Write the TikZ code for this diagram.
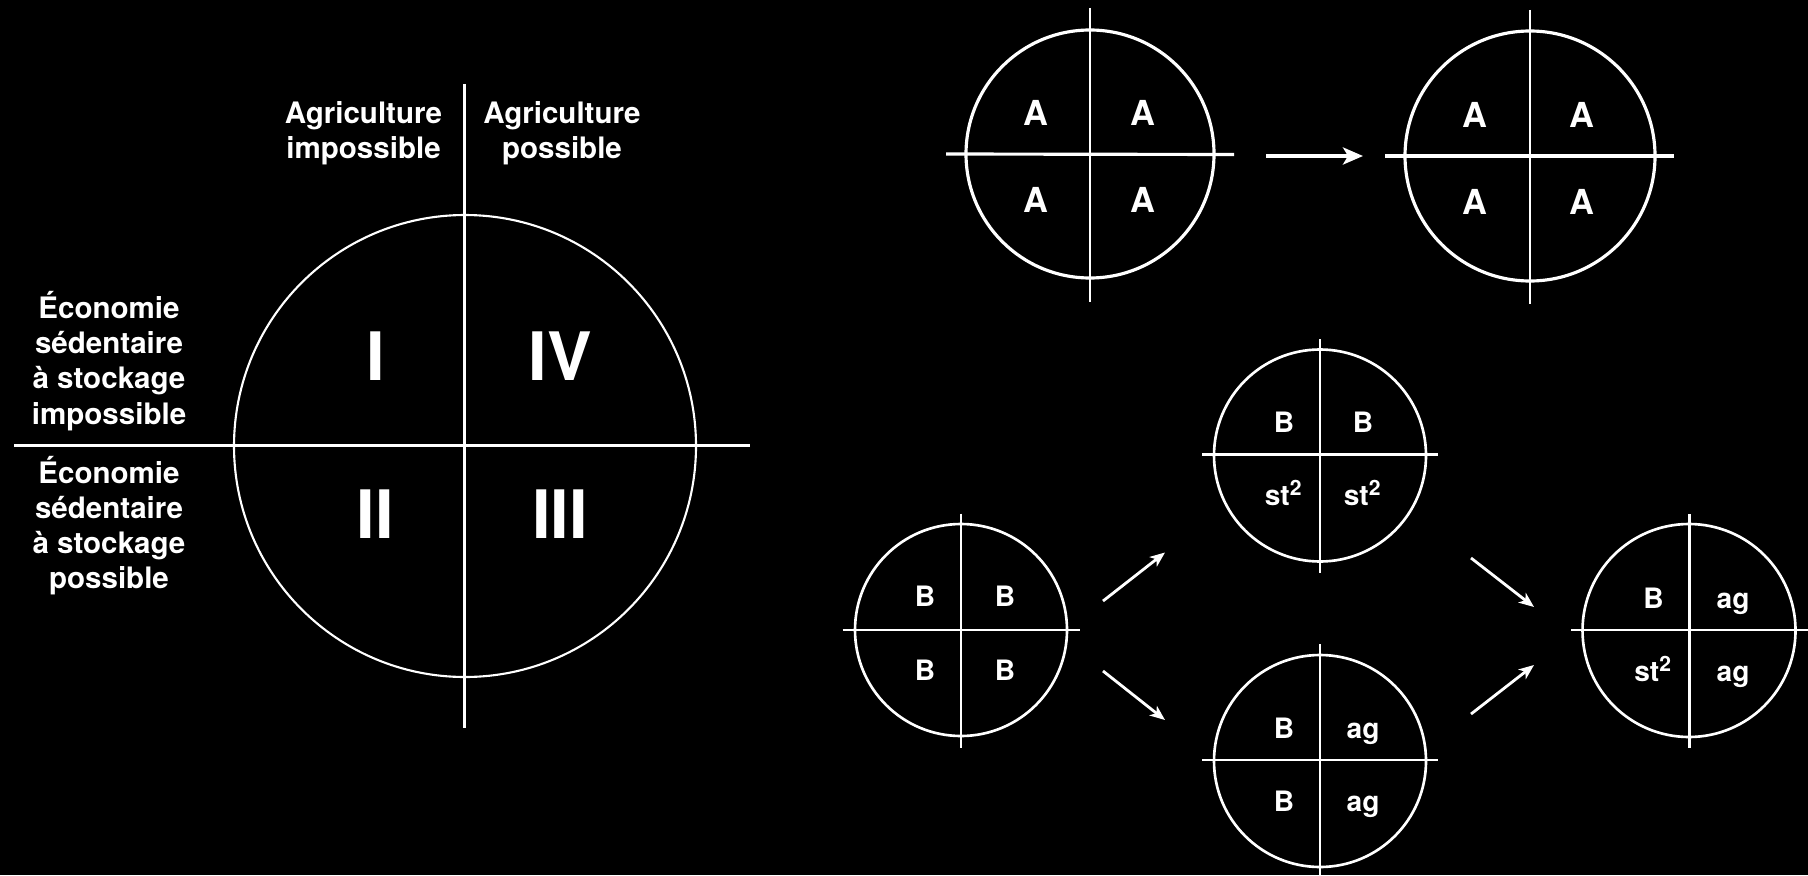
\documentclass[tikz,border=0pt]{standalone}
\usepackage{fontspec}
\setmainfont{TeX Gyre Heros}
\usetikzlibrary{arrows.meta}

\tikzset{
  ring/.style={circle, draw=white, inner sep=0pt},
  cross/.style={draw=white},
  caption/.style={text=white, align=center, inner sep=0pt, font=\fontsize{8.4}{10}\selectfont\bfseries},
  roman/.style={text=white, inner sep=0pt, text height=0.72em, text depth=0pt, font=\fontsize{19}{22}\selectfont\bfseries},
  bigcell/.style={text=white, inner sep=0pt, text height=0.72em, text depth=0pt, font=\fontsize{9.8}{12}\selectfont\bfseries},
  cell/.style={text=white, inner sep=0pt, text height=0.72em, text depth=0pt, font=\fontsize{8}{10}\selectfont\bfseries},
  flow/.style={draw=white, -{Stealth[length=1.5mm, width=1.2mm, inset=0.4mm]}}
}

\begin{document}
\begin{tikzpicture}
  \useasboundingbox[fill=black] (0,0) rectangle (18.08,-8.75);

  % Coordinates
  \coordinate (mainW) at (0.14,-4.455);
  \coordinate (mainE) at (7.50,-4.455);
  \coordinate (mainN) at (4.645,-0.84);
  \coordinate (mainS) at (4.645,-7.28);
  \coordinate (oneW) at (9.46,-1.54);
  \coordinate (oneE) at (12.34,-1.545);
  \coordinate (oneN) at (10.90,-0.08);
  \coordinate (oneS) at (10.90,-3.02);
  \coordinate (twoW) at (13.85,-1.56);
  \coordinate (twoE) at (16.74,-1.56);
  \coordinate (twoN) at (15.30,-0.10);
  \coordinate (twoS) at (15.30,-3.04);
  \coordinate (leftW) at (8.425,-6.30);
  \coordinate (leftE) at (10.795,-6.30);
  \coordinate (leftN) at (9.61,-5.135);
  \coordinate (leftS) at (9.61,-7.48);
  \coordinate (upW) at (12.02,-4.545);
  \coordinate (upE) at (14.38,-4.545);
  \coordinate (upN) at (13.20,-3.39);
  \coordinate (upS) at (13.20,-5.73);
  \coordinate (downW) at (12.02,-7.60);
  \coordinate (downE) at (14.38,-7.60);
  \coordinate (downN) at (13.20,-6.44);
  \coordinate (downS) at (13.20,-8.75);
  \coordinate (endW) at (15.71,-6.30);
  \coordinate (endE) at (18.08,-6.30);
  \coordinate (endN) at (16.895,-5.14);
  \coordinate (endS) at (16.895,-7.48);
  \coordinate (arA) at (12.66,-1.56);
  \coordinate (arB) at (13.63,-1.56);
  \coordinate (ar1s) at (11.03,-6.01);
  \coordinate (ar1e) at (11.65,-5.525);
  \coordinate (ar2s) at (11.03,-6.71);
  \coordinate (ar2e) at (11.65,-7.20);
  \coordinate (ar3s) at (14.71,-5.58);
  \coordinate (ar3e) at (15.34,-6.07);
  \coordinate (ar4s) at (14.71,-7.14);
  \coordinate (ar4e) at (15.34,-6.65);

  % Main diagram
  \node[ring, line width=0.6pt, minimum size=4.62cm] (main) at (4.65,-4.46) {};
  \draw[cross, line width=0.6pt] (mainW) -- (mainE);
  \draw[cross, line width=0.6pt] (mainN) -- (mainS);
  \node[caption] (agrno) at (3.635,-1.33) {Agriculture\\impossible};
  \node[caption] (agryes) at (5.62,-1.33) {Agriculture\\possible};
  \node[caption] (stockno) at (1.09,-3.61) {Économie\\sédentaire\\à stockage\\impossible};
  \node[caption] (stockyes) at (1.09,-5.255) {Économie\\sédentaire\\à stockage\\possible};
  \node[roman] (qI) at (3.76,-3.68) {I};
  \node[roman] (qIV) at (5.60,-3.68) {IV};
  \node[roman] (qII) at (3.75,-5.26) {II};
  \node[roman] (qIII) at (5.60,-5.26) {III};

  % Top: A to A
  \node[ring, line width=0.9pt, minimum size=2.48cm] (one) at (10.90,-1.54) {};
  \draw[cross, line width=0.9pt] (oneW) -- (oneE);
  \draw[cross, line width=0.7pt] (oneN) -- (oneS);
  \node[bigcell] (oneNW) at (10.355,-1.13) {A};
  \node[bigcell] (oneNE) at (11.43,-1.13) {A};
  \node[bigcell] (oneSW) at (10.355,-2.00) {A};
  \node[bigcell] (oneSE) at (11.43,-2.00) {A};
  \node[ring, line width=0.9pt, minimum size=2.50cm] (two) at (15.30,-1.56) {};
  \draw[cross, line width=0.9pt] (twoW) -- (twoE);
  \draw[cross, line width=0.7pt] (twoN) -- (twoS);
  \node[bigcell] (twoNW) at (14.75,-1.15) {A};
  \node[bigcell] (twoNE) at (15.82,-1.15) {A};
  \node[bigcell] (twoSW) at (14.75,-2.02) {A};
  \node[bigcell] (twoSE) at (15.82,-2.02) {A};
  \draw[flow, line width=1.2pt, -{Stealth[length=2mm, width=1.7mm, inset=0.5mm]}] (arA) -- (arB);

  % Bottom: B branches
  \node[ring, line width=0.75pt, minimum size=2.12cm] (left) at (9.61,-6.30) {};
  \draw[cross, line width=0.75pt] (leftW) -- (leftE);
  \draw[cross, line width=0.6pt] (leftN) -- (leftS);
  \node[cell] (leftNW) at (9.25,-5.94) {B};
  \node[cell] (leftNE) at (10.05,-5.94) {B};
  \node[cell] (leftSW) at (9.25,-6.68) {B};
  \node[cell] (leftSE) at (10.05,-6.68) {B};

  \node[ring, line width=0.75pt, minimum size=2.12cm] (up) at (13.20,-4.555) {};
  \draw[cross, line width=0.75pt] (upW) -- (upE);
  \draw[cross, line width=0.6pt] (upN) -- (upS);
  \node[cell] (upNW) at (12.84,-4.20) {B};
  \node[cell] (upNE) at (13.63,-4.20) {B};
  \node[cell] (upSW) at (12.84,-4.93) {st\textsuperscript{2}};
  \node[cell] (upSE) at (13.63,-4.93) {st\textsuperscript{2}};

  \node[ring, line width=0.75pt, minimum size=2.12cm] (down) at (13.20,-7.61) {};
  \draw[cross, line width=0.75pt] (downW) -- (downE);
  \draw[cross, line width=0.6pt] (downN) -- (downS);
  \node[cell] (downNW) at (12.84,-7.26) {B};
  \node[cell] (downNE) at (13.63,-7.26) {ag};
  \node[cell] (downSW) at (12.84,-7.985) {B};
  \node[cell] (downSE) at (13.63,-7.985) {ag};

  \node[ring, line width=0.75pt, minimum size=2.13cm] (end) at (16.89,-6.305) {};
  \draw[cross, line width=0.75pt] (endW) -- (endE);
  \draw[cross, line width=0.6pt] (endN) -- (endS);
  \node[cell] (endNW) at (16.535,-5.96) {B};
  \node[cell] (endNE) at (17.33,-5.96) {ag};
  \node[cell] (endSW) at (16.535,-6.69) {st\textsuperscript{2}};
  \node[cell] (endSE) at (17.33,-6.69) {ag};

  \draw[flow, line width=0.8pt] (ar1s) -- (ar1e);
  \draw[flow, line width=0.8pt] (ar2s) -- (ar2e);
  \draw[flow, line width=0.8pt] (ar3s) -- (ar3e);
  \draw[flow, line width=0.8pt] (ar4s) -- (ar4e);
\end{tikzpicture}
\end{document}
